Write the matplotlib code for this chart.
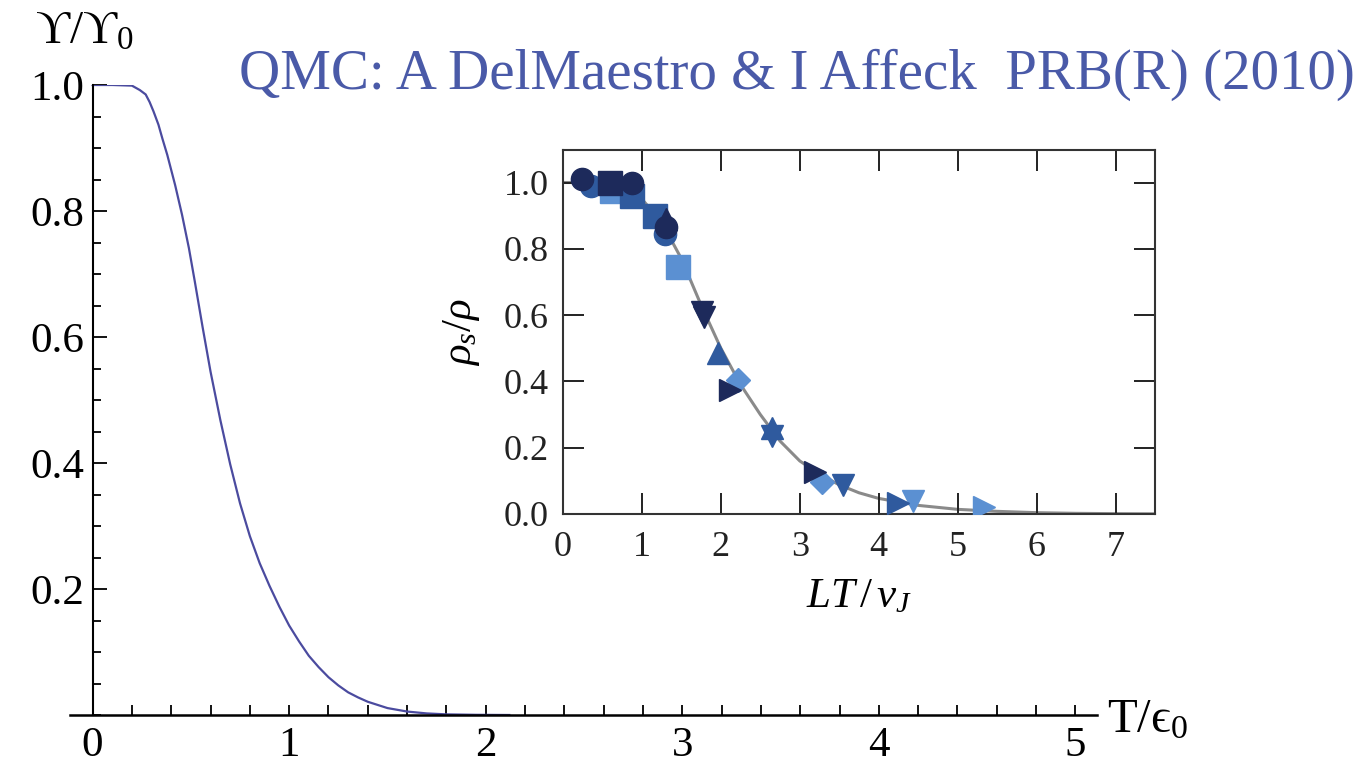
import matplotlib
matplotlib.use("Agg")
import matplotlib.pyplot as plt
from matplotlib.ticker import MultipleLocator, FixedLocator

plt.rcParams['font.family'] = ['Liberation Serif', 'DejaVu Serif']
plt.rcParams['mathtext.fontset'] = 'custom'
plt.rcParams['mathtext.rm'] = 'Liberation Serif'
plt.rcParams['mathtext.it'] = 'Liberation Serif:italic'

# ---- main curve: Upsilon/Upsilon0 vs T/eps0 ----
main_T = [0, 0.10, 0.20, 0.24, 0.27, 0.29, 0.31, 0.335, 0.355, 0.38, 0.42, 0.455, 0.49,
          0.52, 0.56, 0.60, 0.65, 0.70, 0.75, 0.80, 0.85, 0.90, 0.95, 1.00, 1.05,
          1.10, 1.15, 1.20, 1.25, 1.30, 1.35, 1.40, 1.50, 1.60, 1.70, 1.80, 1.95, 2.12]
main_Y = [1.0, 1.0, 0.999, 0.992, 0.985, 0.973, 0.958, 0.937, 0.915, 0.889, 0.841, 0.794,
          0.741, 0.688, 0.615, 0.545, 0.468, 0.398, 0.336, 0.284, 0.241, 0.205, 0.172,
          0.142, 0.117, 0.094, 0.076, 0.060, 0.047, 0.036, 0.028, 0.021, 0.011, 0.0055,
          0.0025, 0.001, 0.0003, 0.0]
main_xticks = [0, 1, 2, 3, 4, 5]
main_yticks = [0.2, 0.4, 0.6, 0.8, 1.0]
main_yticklabels = ["0.2", "0.4", "0.6", "0.8", "1.0"]

# ---- inset: rho_s/rho vs LT/v_J ----
inset_curve_x = [0, 0.25, 0.5, 0.75, 1.0, 1.25, 1.5, 1.75, 2.0, 2.25, 2.5, 2.75, 3.0,
                 3.25, 3.5, 3.75, 4.0, 4.5, 5.0, 5.5, 6.0, 6.5, 7.0, 7.5]
inset_curve_y = [1.0, 1.0, 0.995, 0.98, 0.95, 0.88, 0.77, 0.63, 0.50, 0.39, 0.30, 0.22,
                 0.16, 0.12, 0.088, 0.064, 0.047, 0.026, 0.014, 0.008, 0.004, 0.002, 0.001, 0.0005]
inset_xticks = [0, 1, 2, 3, 4, 5, 6, 7]
inset_yticks = [0.0, 0.2, 0.4, 0.6, 0.8, 1.0]
inset_yticklabels = ["0.0", "0.2", "0.4", "0.6", "0.8", "1.0"]

dark = "#1d2a5b"
mid = "#2f5a9e"
light = "#5b90d2"

# data points of the inset, one group per marker/colour
s_circle_dark_x = [0.24, 0.87, 1.31]
s_circle_dark_y = [1.01, 1.0, 0.865]
s_circle_mid_x = [0.36, 1.29]
s_circle_mid_y = [0.99, 0.845]
s_square_dark_x = [0.60]
s_square_dark_y = [0.997]
s_square_mid_x = [0.87, 1.17]
s_square_mid_y = [0.96, 0.90]
s_square_light_x = [0.62, 1.46]
s_square_light_y = [0.975, 0.745]
s_up_dark_x = [1.31]
s_up_dark_y = [0.89]
s_up_mid_x = [1.97, 2.645]
s_up_mid_y = [0.485, 0.26]
s_down_dark_x = [1.76, 1.78]
s_down_dark_y = [0.61, 0.595]
s_down_mid_x = [2.645, 3.55]
s_down_mid_y = [0.235, 0.087]
s_down_light_x = [4.44]
s_down_light_y = [0.04]
s_right_dark_x = [2.12, 3.19]
s_right_dark_y = [0.374, 0.128]
s_right_mid_x = [4.25]
s_right_mid_y = [0.032]
s_right_light_x = [5.33]
s_right_light_y = [0.022]
s_diam_light_x = [2.22, 3.28]
s_diam_light_y = [0.404, 0.097]

series = [
    ("o", mid, s_circle_mid_x, s_circle_mid_y, 16),
    ("s", light, s_square_light_x, s_square_light_y, 17),
    ("s", mid, s_square_mid_x, s_square_mid_y, 17),
    ("s", dark, s_square_dark_x, s_square_dark_y, 17),
    ("o", dark, s_circle_dark_x, s_circle_dark_y, 16),
    ("^", dark, s_up_dark_x, s_up_dark_y, 16),
    ("^", mid, s_up_mid_x, s_up_mid_y, 16),
    ("v", dark, s_down_dark_x, s_down_dark_y, 16),
    ("v", mid, s_down_mid_x, s_down_mid_y, 16),
    ("v", light, s_down_light_x, s_down_light_y, 16),
    ("D", light, s_diam_light_x, s_diam_light_y, 12),
    (">", dark, s_right_dark_x, s_right_dark_y, 16),
    (">", mid, s_right_mid_x, s_right_mid_y, 16),
    (">", light, s_right_light_x, s_right_light_y, 16),
]

W, H = 1370, 768
fig = plt.figure(figsize=(W / 100, H / 100), dpi=100)

# main axes
ax = fig.add_axes([70 / W, 53 / H, (1097 - 70) / W, (715 - 85) / H])
ax.set_xlim(-0.115, 5.11)
ax.set_ylim(0, 1.0)
ax.plot(main_T, main_Y, color="#4b4b9f", lw=1.6)
for side in ("top", "right"):
    ax.spines[side].set_visible(False)
ax.spines["left"].set_position(("data", 0))
ax.spines["left"].set_linewidth(1.5)
ax.spines["bottom"].set_linewidth(1.8)
ax.set_xticks(main_xticks)
ax.xaxis.set_minor_locator(MultipleLocator(0.2))
ax.set_yticks(main_yticks)
ax.set_yticklabels(main_yticklabels)
ax.yaxis.set_minor_locator(MultipleLocator(0.05))
ax.tick_params(axis="both", which="both", direction="in", width=1.3, labelsize=31)
ax.tick_params(axis="x", which="major", length=7, pad=8)
ax.tick_params(axis="x", which="minor", length=7)
ax.tick_params(axis="y", which="major", length=10, pad=6)
ax.tick_params(axis="y", which="minor", length=6)

fig.text(35 / W, 1 - 32 / H, "ϒ/ϒ$_0$", fontsize=34, ha="left", va="center")
fig.text(1107 / W, 1 - 720 / H, "T/ϵ$_0$", fontsize=35, ha="left", va="center")
fig.text(797 / W, 1 - 75 / H, "QMC: A DelMaestro & I Affeck  PRB(R) (2010)",
         fontsize=41, color="#4a5aa8", ha="center", va="center")

# inset axes
ins = fig.add_axes([563 / W, (H - 514) / H, (1155 - 563) / W, (514 - 150) / H])
ins.set_xlim(0, 7.5)
ins.set_ylim(0, (514 - 150) / 331.5)
ins.plot(inset_curve_x, inset_curve_y, color="#8a8a8a", lw=2.2, zorder=1)
for mk, col, xs, ys, ms in series:
    ins.plot(xs, ys, linestyle="none", marker=mk, markersize=ms, color=col,
             markeredgecolor=col, zorder=3)
for sp in ins.spines.values():
    sp.set_linewidth(1.5)
    sp.set_color("#333333")
ins.xaxis.set_major_locator(FixedLocator(inset_xticks))
ins.yaxis.set_major_locator(FixedLocator(inset_yticks))
ins.set_yticklabels(inset_yticklabels)
ins.tick_params(axis="both", which="major", direction="in", length=15, width=1.4,
                labelsize=26, top=True, right=True, colors="#222222")
ins.tick_params(axis="x", pad=12)
ins.tick_params(axis="y", pad=10)
ins.set_xlabel(r"$LT\,/\,v_J$", fontsize=31, labelpad=10)
ins.set_ylabel(r"$\rho_s/\rho$", fontsize=31, labelpad=16)

fig.savefig("out.png", dpi=100, facecolor="white")
